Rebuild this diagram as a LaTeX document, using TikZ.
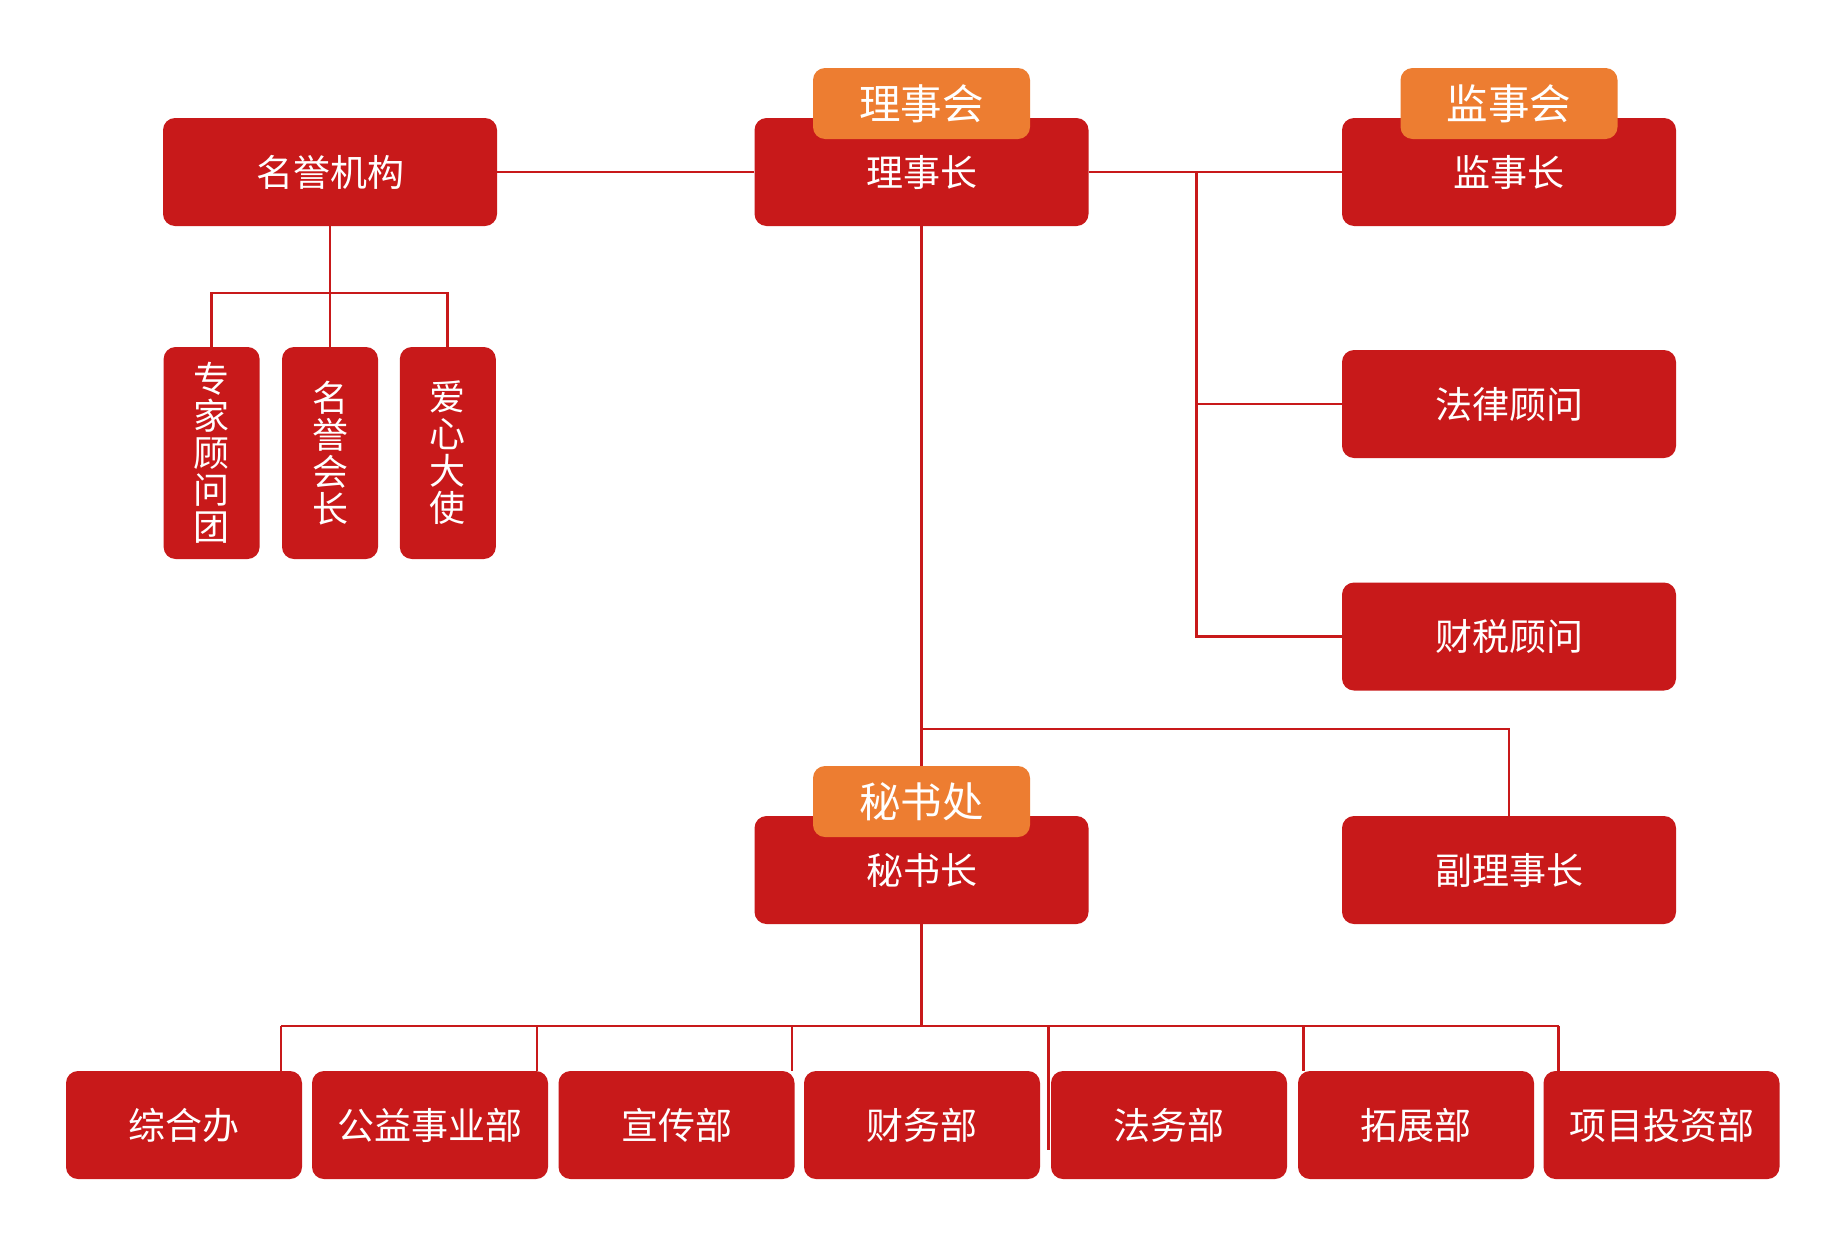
\documentclass[tikz,border=0pt]{standalone}
\usepackage{fontspec}
\newfontfamily\cjk{Noto Sans CJK SC}
\definecolor{boxred}{HTML}{C8191A}
\definecolor{taborange}{HTML}{ED7D31}
\begin{document}
\begin{tikzpicture}[x=1pt,y=-1pt,
  redbox/.style={fill=boxred, rounded corners=12pt, minimum width=334pt, minimum height=108pt, inner sep=0pt, text=white, font=\cjk\fontsize{37}{40}\selectfont},
  smallbox/.style={redbox, minimum width=236pt},
  vbox/.style={fill=boxred, rounded corners=12pt, minimum width=96pt, minimum height=212pt, inner sep=0pt, text=white, align=center, font=\cjk\fontsize{36}{37}\selectfont},
  tabbox/.style={fill=taborange, rounded corners=12pt, minimum width=217pt, minimum height=71pt, inner sep=0pt, text=white, font=\cjk\fontsize{41.5}{44}\selectfont},
  conn/.style={draw=boxred, line width=2.7pt}]
\useasboundingbox (0,0) rectangle (1843,1250);
\fill[white] (0,0) rectangle (1843,1250);
% top row
\node[redbox] (mygj) at (330,172) {名誉机构};
\node[redbox] (lsz) at (921.5,172) {理事长};
\node[tabbox] (lsh) at (921.5,103.5) {理事会};
\node[redbox] (jsz) at (1509,172) {监事长};
\node[tabbox] (jsh) at (1509,103.5) {监事会};
% right column
\node[redbox] (flgw) at (1509,404) {法律顾问};
\node[redbox] (csgw) at (1509,636.5) {财税顾问};
\node[redbox] (flsz) at (1509,870) {副理事长};
% secretary
\node[redbox] (msz) at (921.5,870) {秘书长};
\node[tabbox] (msc) at (921.5,801.5) {秘书处};
% vertical boxes
\node[vbox] (zjgwt) at (211.6,453) {专\\家\\顾\\问\\团};
\node[vbox] (myhz) at (330,453) {名\\誉\\会\\长};
\node[vbox] (axds) at (447.8,453) {爱\\心\\大\\使};
% bottom row
\node[smallbox] (zhb) at (184,1125) {综合办};
\node[smallbox] (gysyb) at (430,1125) {公益事业部};
\node[smallbox] (xcb) at (676.5,1125) {宣传部};
\node[smallbox] (cwb) at (922,1125) {财务部};
\node[smallbox] (fwb) at (1169,1125) {法务部};
\node[smallbox] (tzb) at (1416,1125) {拓展部};
\node[smallbox] (xmtzb) at (1661.5,1125) {项目投资部};
% connectors
\draw[conn] (mygj.east) -- (lsz.west);
\draw[conn] (lsz.east) -- (jsz.west);
\coordinate (jbus) at (1196.6,172);
\draw[conn] (jbus) |- (flgw.west);
\draw[conn] (jbus) |- (csgw.west);
\coordinate (mbus) at (330,293);
\draw[conn] (mygj.south) -- (myhz.north);
\draw[conn] (zjgwt.north) |- (mbus) -| (axds.north);
\draw[conn] (lsz.south) -- (msc.north);
\coordinate (vbus) at (921.5,729);
\draw[conn] (vbus) -| (flsz.north);
\coordinate (bbus) at (921.5,1026);
\draw[conn] (msz.south) -- (bbus);
\coordinate (d1) at (281,1026);
\coordinate (d2) at (537,1026);
\coordinate (d3) at (792,1026);
\coordinate (d4) at (1048.5,1026);
\coordinate (d5) at (1303.5,1026);
\coordinate (d6) at (1558.6,1026);
\coordinate (d4end) at (1048.5,1150);
\draw[conn] (d1) -- (d6);
\draw[conn] (d1) -- (d1 |- zhb.north);
\draw[conn] (d2) -- (d2 |- zhb.north);
\draw[conn] (d3) -- (d3 |- zhb.north);
\draw[conn] (d4) -- (d4end);
\draw[conn] (d5) -- (d5 |- zhb.north);
\draw[conn] (d6) -- (d6 |- zhb.north);
\end{tikzpicture}
\end{document}
